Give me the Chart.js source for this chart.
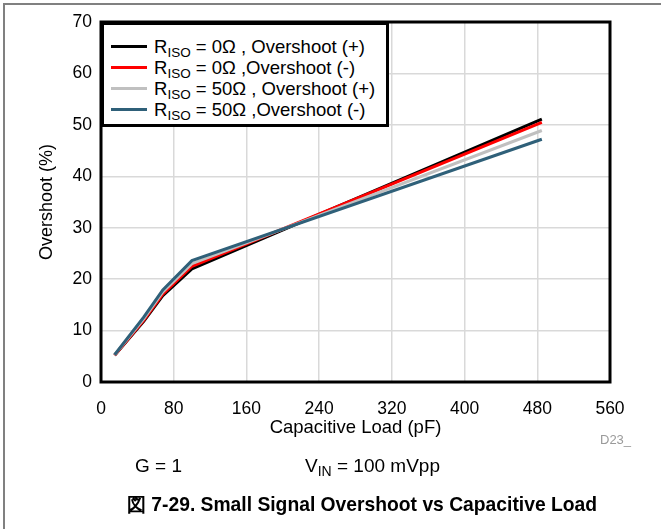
<!DOCTYPE html>
<html>
<head>
<meta charset="utf-8">
<script src="https://cdn.jsdelivr.net/npm/chart.js@4.4.1/dist/chart.umd.min.js"></script>
<style>
  body { margin: 0; background: #fff; font-family: "Liberation Sans", Arial, sans-serif; }
  #wrap { position: relative; width: 661px; height: 529px; overflow: hidden; }
  #frame { position: absolute; left: 3px; top: 3px; width: 700px; height: 600px;
           border-top: 2px solid #808080; border-left: 2px solid #808080; }
  #chart { position: absolute; left: 0; top: 0; }
  #legend { position: absolute; left: 101px; top: 22px; width: 288px; height: 105px;
            box-sizing: border-box; border: 3px solid #000; background: #fff; }
  .row { position: absolute; left: 0; height: 21px; font-size: 18.5px; line-height: 21px; white-space: nowrap; }
  .swatch { position: absolute; left: 7px; top: 9px; width: 36px; height: 3px; }
  .lbl { position: absolute; left: 50px; top: 0; }
  sub { font-size: 13.5px; vertical-align: -4px; line-height: 0; }
  .txt { position: absolute; white-space: nowrap; color: #000; }
</style>
</head>
<body>
<div id="wrap">
  <div id="frame"></div>
  <canvas id="chart" width="661" height="529"></canvas>
  <div id="legend"></div>
  <div class="txt" style="left:600px; top:432px; font-size:13px; color:#9a9a9a;">D23_</div>
  <div class="txt" style="left:135px; top:455px; font-size:19px;">G = 1</div>
  <div class="txt" style="left:305px; top:455px; font-size:19px;">V<sub style="font-size:14px">IN</sub> = 100 mVpp</div>
  <div class="txt" style="left:0; width:724px; text-align:center; top:491px; font-size:19.3px; font-weight:bold;">図 7-29. Small Signal Overshoot vs Capacitive Load</div>
</div>
<script>
// capacitive load (pF)
const capLoad = [15, 47, 68, 100, 485];
// overshoot (%)
const riso0Pos = [5.2, 11.8, 16.8, 22.0, 51.1];
const riso0Neg = [5.2, 12.0, 17.1, 22.5, 50.5];
const riso50Pos = [5.3, 12.3, 17.5, 23.0, 48.9];
const riso50Neg = [5.3, 12.6, 17.9, 23.6, 47.2];

const seriesNames = [
    'R_ISO = 0Ω , Overshoot (+)',
    'R_ISO = 0Ω ,Overshoot (-)',
    'R_ISO = 50Ω , Overshoot (+)',
    'R_ISO = 50Ω ,Overshoot (-)'
];
const seriesColors = ['#000000', '#ff0000', '#c0c0c0', '#2f6079'];
const seriesData = [riso0Pos, riso0Neg, riso50Pos, riso50Neg];

const xTicks = [0, 80, 160, 240, 320, 400, 480, 560];
const yTicks = [0, 10, 20, 30, 40, 50, 60, 70];

Chart.defaults.font.family = '"Liberation Sans", Arial, sans-serif';
Chart.defaults.font.size = 17.5;
Chart.defaults.color = '#000';

// thick box round the plot area
const plotBox = {
    id: 'plotBox',
    afterDraw(chart) {
        const a = chart.chartArea;
        const ctx = chart.ctx;
        ctx.save();
        ctx.strokeStyle = '#000';
        ctx.lineWidth = 3;
        ctx.strokeRect(a.left, a.top, a.right - a.left, a.bottom - a.top);
        ctx.restore();
    }
};

const datasets = seriesData.map((vals, i) => ({
    label: seriesNames[i],
    data: vals.map((v, j) => ({ x: capLoad[j], y: v })),
    borderColor: seriesColors[i],
    backgroundColor: seriesColors[i],
    borderWidth: 3,
    pointRadius: 0,
    fill: false,
    order: 4 - i
}));

const chart = new Chart(document.getElementById('chart').getContext('2d'), {
    type: 'line',
    data: { datasets: datasets },
    options: {
        responsive: false,
        animation: false,
        devicePixelRatio: 1,
        layout: { padding: { left: 0, right: 51, top: 22, bottom: 0 } },
        plugins: { legend: { display: false }, tooltip: { enabled: false } },
        scales: {
            x: {
                type: 'linear',
                min: 0, max: 560,
                afterFit(scale) { scale.height = 147; },
                afterBuildTicks(scale) { scale.ticks = xTicks.map(v => ({ value: v })); },
                ticks: { padding: 17 },
                grid: { color: '#d9d9d9', lineWidth: 1.5, drawTicks: false },
                border: { display: false },
                title: { display: true, text: 'Capacitive Load (pF)', font: { size: 18.5 }, padding: { top: 0, bottom: 90 } }
            },
            y: {
                min: 0, max: 70,
                afterFit(scale) { scale.width = 101; },
                afterBuildTicks(scale) { scale.ticks = yTicks.map(v => ({ value: v })); },
                ticks: { padding: 9 },
                grid: { color: '#d9d9d9', lineWidth: 1.5, drawTicks: false },
                border: { display: false },
                title: { display: true, text: 'Overshoot (%)', font: { size: 18 }, padding: { top: 36, bottom: 0 } }
            }
        }
    },
    plugins: [plotBox]
});

// legend with subscripts, built from the series names
const legend = document.getElementById('legend');
seriesNames.forEach((name, i) => {
    const row = document.createElement('div');
    row.className = 'row';
    row.style.top = (11 + i * 21) + 'px';
    const sw = document.createElement('div');
    sw.className = 'swatch';
    sw.style.background = seriesColors[i];
    const lbl = document.createElement('div');
    lbl.className = 'lbl';
    lbl.innerHTML = name.replace('_ISO', '<sub>ISO</sub>');
    row.appendChild(sw);
    row.appendChild(lbl);
    legend.appendChild(row);
});
</script>
</body>
</html>
